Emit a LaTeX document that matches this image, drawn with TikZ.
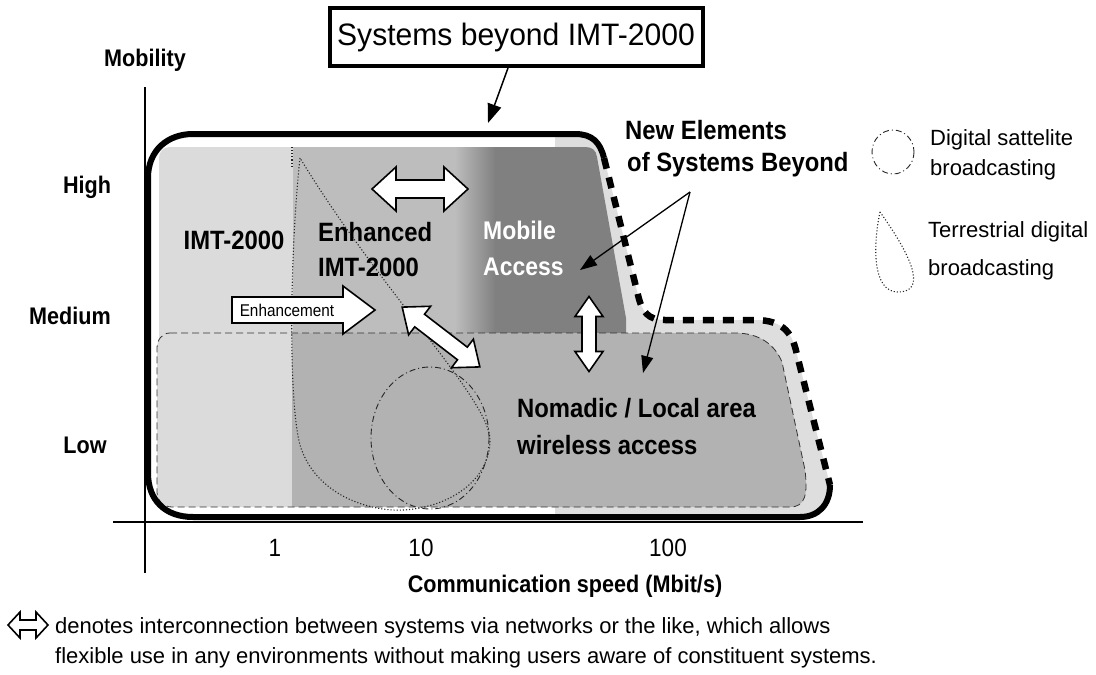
\documentclass[tikz,border=0pt]{standalone}
\usepackage{fontspec}
\setmainfont{Liberation Sans}
\usetikzlibrary{arrows.meta}
\definecolor{band}{gray}{0.87}
\definecolor{imt}{gray}{0.86}
\definecolor{enh}{gray}{0.74}
\definecolor{mob}{gray}{0.50}
\definecolor{nom}{gray}{0.70}
\newcommand{\fs}[1]{\fontsize{#1}{#1}\selectfont}
\newcommand{\cnd}[1]{\scalebox{0.9}[1]{#1}}
\newcommand{\dblarr}[4]{%
  \path[blockarrow] (-#1,0) -- (-#1+#2,-#3) -- (-#1+#2,-#4) -- (#1-#2,-#4) -- (#1-#2,-#3) -- (#1,0)
    -- (#1-#2,#3) -- (#1-#2,#4) -- (-#1+#2,#4) -- (-#1+#2,#3) -- cycle;}
\tikzset{
  axlbl/.style={font=\fs{24}\bfseries, inner sep=0},
  num/.style={font=\fs{25}, inner sep=0},
  reglbl/.style={font=\fs{26.5}\bfseries, inner sep=0, anchor=west},
  legtxt/.style={font=\fs{22}, inner sep=0, anchor=west},
  captxt/.style={font=\fs{22}, inner sep=0, anchor=west},
  newtxt/.style={font=\fs{26.5}\bfseries, inner sep=0, anchor=west},
  blockarrow/.style={fill=white, draw=black, line width=1.6, line join=miter},
  pointer/.style={line width=1.3, -{Triangle[length=17pt,width=12pt]}},
  outsolid/.style={line width=6},
  outdash/.style={line width=6.5, dash pattern=on 11pt off 9pt},
  nomborder/.style={line width=0.8, dash pattern=on 7pt off 4pt, black!80},
  tear/.style={line width=1.1, dotted, black!85},
  sat/.style={line width=0.9, dash pattern=on 6pt off 3pt on 1pt off 3pt, black!85},
}
\begin{document}
\begin{tikzpicture}[x=1pt,y=-1pt]
\useasboundingbox (0,0) rectangle (1096,675);

% light band inside the big outline (right part)
\begin{scope}
\clip (604,158) .. controls (600,142) and (592,134) .. (575,134) -- (193,134) .. controls (168,134) and (148,150) .. (148,178) -- (148,473) .. controls (148,500) and (165,517) .. (193,517) -- (800,517) .. controls (818,517) and (830,505) .. (830,485) -- (797,355) .. controls (793,335) and (785,320) .. (755,320) -- (665,320) .. controls (648,320) and (642,312) .. (638,295) -- cycle;
\fill[band] (555,120) rectangle (840,530);
\end{scope}

% upper region: IMT-2000 / Enhanced / Mobile access
\begin{scope}
\clip (170,147) -- (585,147) .. controls (592,147) and (596,150) .. (597,157) -- (626,318) -- (626,340) -- (159,340) -- (159,158) .. controls (159,152) and (163,147) .. (170,147) -- cycle;
\fill[imt] (150,140) rectangle (293,345);
\fill[enh] (293,140) rectangle (456,345);
\shade[left color=enh, right color=mob] (455,140) rectangle (496,345);
\fill[mob] (495,140) rectangle (640,345);
\end{scope}

% nomadic region
\begin{scope}
\clip (170,333) -- (735,333) .. controls (760,333) and (775,345) .. (782,362) -- (805,470) .. controls (808,495) and (805,507) .. (790,507) -- (172,507) .. controls (163,507) and (157,500) .. (157,492) -- (157,348) .. controls (157,340) and (162,333) .. (170,333) -- cycle;
\fill[imt] (150,325) rectangle (292,515);
\fill[nom] (292,325) rectangle (815,515);
\end{scope}
\draw[nomborder] (170,333) -- (735,333) .. controls (760,333) and (775,345) .. (782,362) -- (805,470) .. controls (808,495) and (805,507) .. (790,507) -- (172,507) .. controls (163,507) and (157,500) .. (157,492) -- (157,348) .. controls (157,340) and (162,333) .. (170,333) -- cycle;

% IMT-2000 boundary and terrestrial teardrop
\draw[tear] (292,147) -- (292,168);
\draw[tear] (300,158) .. controls (290,250) and (288,400) .. (300,445) .. controls (315,495) and (370,512) .. (404,510) .. controls (450,507) and (490,480) .. (490,440) .. controls (490,400) and (380,290) .. (300,158) -- cycle;
% satellite ellipse
\draw[sat] (430,438) ellipse [x radius=59, y radius=71];

% axes
\draw[line width=1.2] (145,87) -- (145,573);
\draw[line width=1.2] (113,522) -- (863,522);

% big outline: solid part and dashed part
\draw[outsolid] (604,158) .. controls (600,142) and (592,134) .. (575,134) -- (193,134) .. controls (168,134) and (148,150) .. (148,178) -- (148,473) .. controls (148,500) and (165,517) .. (193,517) -- (800,517) .. controls (818,517) and (830,505) .. (830,485);
\draw[outdash] (604,158) -- (638,295) .. controls (642,312) and (648,320) .. (665,320) -- (755,320) .. controls (785,320) and (793,335) .. (797,355) -- (830,485);

% title
\node[draw, line width=4, minimum width=373, minimum height=58, inner sep=0, font=\fs{31}] (title) at (516,37) {\scalebox{0.97}[1]{Systems beyond IMT-2000}};
\coordinate (tstart) at (508,68);
\coordinate (ttip) at (488,123);
\draw[line width=1.5, -{Triangle[length=19pt,width=14pt]}] (tstart) -- (ttip);

% axis labels
\node[axlbl] (mobility) at (145,60) {\cnd{Mobility}};
\node[axlbl] (high) at (87,187) {\cnd{High}};
\node[axlbl] (medium) at (70,316) {\cnd{Medium}};
\node[axlbl] (low) at (85,445) {\cnd{Low}};
\node[num] (n1) at (275,548) {\cnd{1}};
\node[num] (n10) at (421,548) {\cnd{10}};
\node[num] (n100) at (668,548) {\cnd{100}};
\node[axlbl] (xlabel) at (565,586) {\cnd{Communication speed (Mbit/s)}};

% region labels
\node[font=\fs{26.5}\bfseries, inner sep=0] (imt) at (234,240) {\cnd{IMT-2000}};
\node[reglbl] (enh1) at (318,232) {\cnd{Enhanced}};
\node[reglbl] (enh2) at (318,267) {\cnd{IMT-2000}};
\node[reglbl, text=white, font=\fs{25.5}\bfseries] (mob1) at (483,230) {\cnd{Mobile}};
\node[reglbl, text=white, font=\fs{25.5}\bfseries] (mob2) at (483,267) {\cnd{Access}};
\node[reglbl] (nom1) at (517,408) {\cnd{Nomadic / Local area}};
\node[reglbl] (nom2) at (517,445) {\cnd{wireless access}};

% new elements
\node[newtxt] (new1) at (625,130) {\cnd{New Elements}};
\node[newtxt] (new2) at (627,165) {\cnd{of Systems Beyond}};
\coordinate (nstart) at (690,192);
\coordinate (ntip1) at (580,270);
\coordinate (ntip2) at (643,373);
\draw[pointer] (nstart) -- (ntip1);
\draw[pointer] (nstart) -- (ntip2);

% block arrows
\begin{scope}[shift={(420,189)}] \dblarr{48}{24}{22}{9} \end{scope}
\begin{scope}[shift={(441,337)}, rotate=-37.6] \dblarr{49}{22}{18}{8} \end{scope}
\begin{scope}[shift={(589,334)}, rotate=90] \dblarr{37.5}{20}{14}{7} \end{scope}
\path[blockarrow] (232,297) -- (343,297) -- (343,286) -- (375,310) -- (343,334) -- (343,323) -- (232,323) -- cycle;
\node[font=\fs{17}, inner sep=0] (enhancement) at (287,310) {\cnd{Enhancement}};

% legend
\draw[sat] (893,152) ellipse [x radius=21, y radius=22];
\node[legtxt] (leg1a) at (930,140) {Digital sattelite};
\node[legtxt] (leg1b) at (930,170) {broadcasting};
\draw[tear] (880,212) .. controls (873,245) and (872,292) .. (898,292) .. controls (922,292) and (920,268) .. (880,212) -- cycle;
\node[legtxt] (leg2a) at (928,232) {Terrestrial digital};
\node[legtxt] (leg2b) at (928,270) {broadcasting};

% caption
\begin{scope}[shift={(28,625)}] \dblarr{20}{12}{13}{5} \end{scope}
\node[captxt] (cap1) at (55,628) {denotes interconnection between systems via networks or the like, which allows};
\node[captxt] (cap2) at (55,658) {flexible use in any environments without making users aware of constituent systems.};
\end{tikzpicture}
\end{document}
